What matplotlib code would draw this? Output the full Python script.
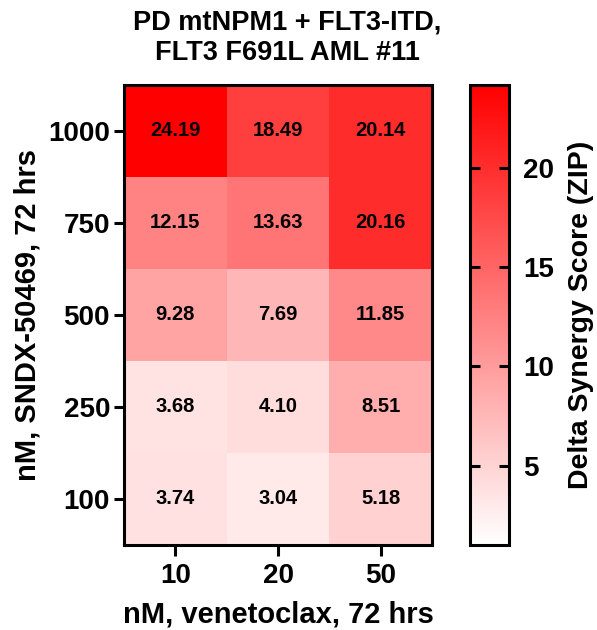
import numpy as np
import matplotlib
matplotlib.use("Agg")
import matplotlib.pyplot as plt
from matplotlib.colors import LinearSegmentedColormap

plt.rcParams['font.family'] = ['Liberation Sans', 'DejaVu Sans']
plt.rcParams['font.weight'] = 'bold'

venetoclax = ["10", "20", "50"]
sndx = ["1000", "750", "500", "250", "100"]
scores = [
    [24.19, 18.49, 20.14],
    [12.15, 13.63, 20.16],
    [9.28, 7.69, 11.85],
    [3.68, 4.10, 8.51],
    [3.74, 3.04, 5.18],
]
cbar_ticks = [5, 10, 15, 20]
vmin, vmax = 1.0, 24.19

W, H = 597, 630
fig = plt.figure(figsize=(W / 100, H / 100), dpi=100)

def rect(l, t, r, b):
    return [l / W, 1 - b / H, (r - l) / W, (b - t) / H]

ax = fig.add_axes(rect(124, 85, 432, 545))
cax = fig.add_axes(rect(470, 85, 509, 545))

cmap = LinearSegmentedColormap.from_list("wr", ["#ffffff", "#ff0000"])
data = np.array(scores)
im = ax.imshow(data, cmap=cmap, vmin=vmin, vmax=vmax, aspect="auto",
               interpolation="nearest")

for i in range(data.shape[0]):
    for j in range(data.shape[1]):
        ax.text(j, i, f"{data[i, j]:.2f}", ha="center", va="center",
                fontsize=14.5, fontweight="bold", color="black")

ax.set_xticks(range(len(venetoclax)))
ax.set_xticklabels(venetoclax)
ax.set_yticks(range(len(sndx)))
ax.set_yticklabels(sndx)
ax.tick_params(axis="both", labelsize=20, width=2.2, length=7, pad=3)
ax.tick_params(axis="x", length=8, pad=5)
for s in ax.spines.values():
    s.set_linewidth(2.2)

ax.set_xlabel("nM, venetoclax, 72 hrs", fontsize=21, fontweight="bold",
              labelpad=8)
ax.set_ylabel("nM, SNDX-50469, 72 hrs", fontsize=21, fontweight="bold",
              labelpad=5)
ax.set_title("PD mtNPM1 + FLT3-ITD,\nFLT3 F691L AML #11", fontsize=19.5,
             fontweight="bold", pad=18, linespacing=1.2, x=0.53)

cb = fig.colorbar(im, cax=cax)
cb.set_ticks(cbar_ticks)
cb.ax.tick_params(labelsize=20, width=2.2, length=7, direction="in",
                  right=True, left=True, pad=10)
cb.outline.set_linewidth(2.2)
cb.set_label("Delta Synergy Score (ZIP)", fontsize=20.5, fontweight="bold",
             labelpad=10)

fig.savefig("out.png", dpi=100)
